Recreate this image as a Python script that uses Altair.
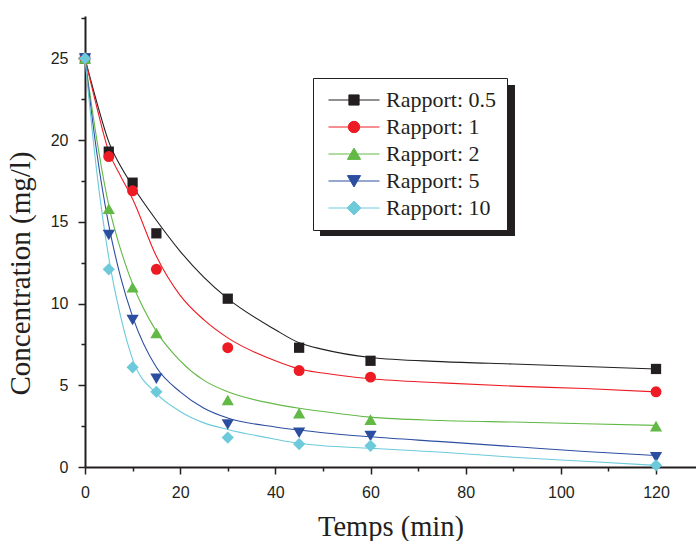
import altair as alt
import pandas as pd

# ---------------- data ----------------
series = ["Rapport: 0.5", "Rapport: 1", "Rapport: 2", "Rapport: 5", "Rapport: 10"]
colors = ["#231f20", "#ed1c24", "#62b946", "#2c4ea0", "#6ccadb"]
shapes = ["square", "circle", "triangle-up", "triangle-down", "diamond"]
marker_sizes = [105, 120, 150, 150, 150]

times = [0, 5, 10, 15, 30, 45, 60, 120]
r05 = [25, 19.3, 17.4, 14.3, 10.3, 7.3, 6.5, 6.0]
r1 = [25, 19.0, 16.9, 12.1, 7.3, 5.9, 5.5, 4.6]
r2 = [25, 15.8, 11.0, 8.2, 4.1, 3.3, 2.9, 2.5]
r5 = [25, 14.2, 9.0, 5.4, 2.6, 2.1, 1.9, 0.6]
r10 = [25, 12.1, 6.1, 4.6, 1.8, 1.4, 1.3, 0.1]

# fitted curves
fit_t = [0, 2.5, 5, 7.5, 10, 15, 20, 25, 30, 40, 45, 50, 60, 75, 90, 105, 120]
fit05 = [25, 22.3, 19.9, 18.4, 17.2, 15.1, 13.2, 11.6, 10.3, 8.4, 7.6, 7.2, 6.7, 6.45, 6.3, 6.15, 6.0]
fit1 = [25, 22.0, 19.3, 17.8, 16.4, 12.9, 10.5, 9.0, 7.9, 6.5, 6.0, 5.75, 5.4, 5.15, 4.95, 4.8, 4.6]
fit2 = [25, 20.0, 16.0, 13.3, 11.2, 8.3, 6.5, 5.3, 4.6, 3.85, 3.6, 3.4, 3.05, 2.85, 2.75, 2.65, 2.55]
fit5 = [25, 19.2, 14.8, 11.6, 9.2, 6.1, 4.6, 3.6, 3.0, 2.45, 2.26, 2.1, 1.85, 1.55, 1.25, 0.95, 0.7]
fit10 = [25, 18.0, 12.8, 9.2, 6.6, 4.5, 3.4, 2.7, 2.3, 1.7, 1.45, 1.3, 1.15, 0.9, 0.6, 0.35, 0.1]

x_ticks = [0, 10, 20, 30, 40, 50, 60, 70, 80, 90, 100, 110, 120]
y_ticks = [0, 2.5, 5, 7.5, 10, 12.5, 15, 17.5, 20, 22.5, 25, 27.5]

# ---------------- tables ----------------
pts_vals = [r05, r1, r2, r5, r10]
fit_vals = [fit05, fit1, fit2, fit5, fit10]
pts = pd.DataFrame(
    [{"t": t, "c": v, "s": s} for s, vals in zip(series, pts_vals) for t, v in zip(times, vals)]
)
fits = pd.DataFrame(
    [{"t": t, "c": v, "s": s} for s, vals in zip(series, fit_vals) for t, v in zip(fit_t, vals)]
)

# legend symbols: a short line with the marker in its middle
legend_paths = [
    "M-4.25,0H4.25M-0.85,-0.85H0.85V0.85H-0.85Z",
    "M-4.25,0H4.25M-0.95,0A0.95,0.95,0,1,1,0.95,0A0.95,0.95,0,1,1,-0.95,0Z",
    "M-4.25,0H4.25M0,-1.0L1.1,0.9H-1.1Z",
    "M-4.25,0H4.25M0,1.0L1.1,-0.9H-1.1Z",
    "M-4.25,0H4.25M0,-1.15L1.15,0L0,1.15L-1.15,0Z",
]

SANS = "Liberation Sans"
SERIF = "Liberation Serif"
INK = "#231f20"

x_enc = alt.X(
    "t:Q",
    scale=alt.Scale(domain=[0, 128.4], nice=False, zero=False),
    axis=alt.Axis(
        values=x_ticks,
        labelExpr="datum.value % 20 === 0 ? datum.label : ''",
        tickSize={"condition": {"test": "datum.value % 20 === 0", "value": 7}, "value": 4},
        tickColor=INK,
        tickWidth=1.5,
        domainColor=INK,
        domainWidth=2,
        labelFont=SANS,
        labelFontSize=16,
        labelColor=INK,
        labelPadding=10,
        labelFlush=False,
        title="Temps (min)",
        titleFont=SERIF,
        titleFontSize=28.5,
        titleFontWeight="normal",
        titleColor=INK,
        titlePadding=12,
        grid=False,
    ),
)
y_enc = alt.Y(
    "c:Q",
    scale=alt.Scale(domain=[0, 27.6], nice=False, zero=False),
    axis=alt.Axis(
        values=y_ticks,
        labelExpr="datum.value % 5 === 0 ? datum.label : ''",
        tickSize={"condition": {"test": "datum.value % 5 === 0", "value": 7}, "value": 4},
        tickColor=INK,
        tickWidth=1.5,
        domainColor=INK,
        domainWidth=2,
        labelFont=SANS,
        labelFontSize=16,
        labelColor=INK,
        labelPadding=10,
        labelFlush=False,
        title="Concentration (mg/l)",
        titleFont=SERIF,
        titleFontSize=29,
        titleFontWeight="normal",
        titleColor=INK,
        titleX=-50,
        titleY=257,
        grid=False,
    ),
)

line_layers = []
point_layers = []
for s, col, shp, sz in zip(series, colors, shapes, marker_sizes):
    line_layers.append(
        alt.Chart(fits)
        .transform_filter(alt.datum.s == s)
        .mark_line(strokeWidth=1.1, interpolate="monotone", color=col)
        .encode(x=x_enc, y=y_enc)
    )
    point_layers.append(
        alt.Chart(pts)
        .transform_filter(alt.datum.s == s)
        .mark_point(filled=True, opacity=1, shape=shp, size=sz, color=col)
        .encode(x=x_enc, y=y_enc)
    )

shadow = alt.Chart(pts).mark_rect(color=INK).encode(
    x=alt.value(235), x2=alt.value(430), y=alt.value(69), y2=alt.value(220)
)

legend_layer = alt.Chart(pts).mark_point(opacity=0, filled=True).encode(
    x=x_enc,
    y=y_enc,
    fill=alt.Fill("s:N", scale=alt.Scale(domain=series, range=colors), title=None),
    stroke=alt.Stroke("s:N", scale=alt.Scale(domain=series, range=colors), title=None),
    shape=alt.Shape("s:N", scale=alt.Scale(domain=series, range=legend_paths), title=None),
)

chart = (
    alt.layer(shadow, *line_layers, *point_layers, legend_layer)
    .properties(
        width=611,
        height=451,
        padding={"left": 85, "top": 16, "right": 0, "bottom": 74},
        autosize=alt.AutoSizeParams(type="none"),
        background="white",
    )
    .configure_view(stroke=None)
    .configure_legend(
        orient="none",
        legendX=228,
        legendY=62,
        padding=11,
        strokeColor=INK,
        fillColor="white",
        labelFont=SERIF,
        labelFontSize=22,
        labelColor=INK,
        symbolSize=144,
        symbolStrokeWidth=1,
        symbolOpacity=1,
        symbolFillColor=INK,
        symbolStrokeColor=INK,
        symbolOffset=19,
        labelOffset=21,
        rowPadding=5,
    )
)

chart.save("out.html", embed_options={"renderer": "svg", "actions": False})
